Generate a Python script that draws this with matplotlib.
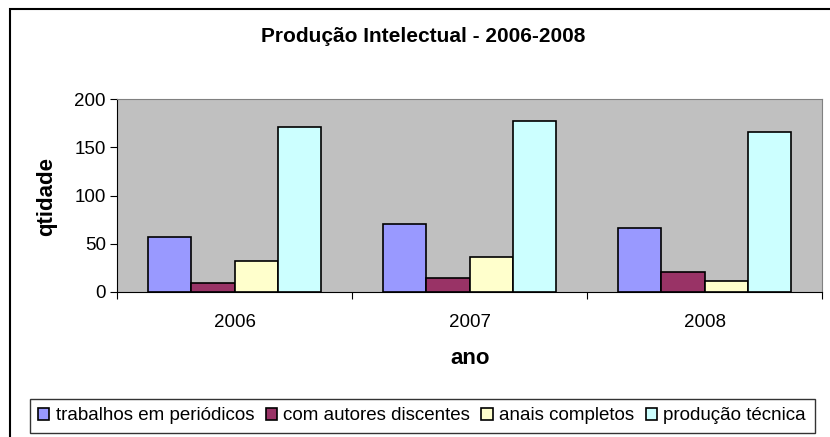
import matplotlib.pyplot as plt
import numpy as np
from matplotlib.patches import Rectangle

plt.rcParams['font.family'] = ['Liberation Sans', 'DejaVu Sans']

anos = ['2006', '2007', '2008']
series = ['trabalhos em periódicos', 'com autores discentes', 'anais completos', 'produção técnica']
trabalhos = [57, 70, 66]
discentes = [9, 14, 21]
anais = [32, 36, 11]
tecnica = [171, 177, 166]
cores = ['#9999FF', '#993366', '#FFFFCC', '#CCFFFF']

fig = plt.figure(figsize=(8.3, 4.37), dpi=100)

# outer chart frame
fig.patches.append(Rectangle((10/830, -0.05), 1.0, 0.979 + 0.05, transform=fig.transFigure,
                             fill=False, edgecolor='black', linewidth=1.5))

ax = fig.add_axes([117/830, 1 - 292/437, 705/830, 193/437])
ax.set_facecolor('#C0C0C0')

x = np.arange(len(anos))
w = 0.183
valores = [trabalhos, discentes, anais, tecnica]
for i, (vals, cor, nome) in enumerate(zip(valores, cores, series)):
    ax.bar(x + (i - 1.5) * w, vals, w, color=cor, edgecolor='black', linewidth=1.2, label=nome)

ax.set_xlim(-0.5, 2.5)
ax.set_ylim(0, 200)
ax.set_yticks([0, 50, 100, 150, 200])
ax.set_xticks([-0.5, 0.5, 1.5, 2.5])
ax.set_xticklabels([])
ax.set_xticks(x, minor=True)
ax.set_xticklabels(anos, minor=True)
ax.tick_params(axis='x', which='minor', length=0, pad=16, labelsize=13.5)
ax.tick_params(axis='x', which='major', length=5, direction='out')
ax.tick_params(axis='y', length=5, direction='out', labelsize=13.5, pad=3)

for s in ['top', 'right']:
    ax.spines[s].set_color('#808080')
for s in ['left', 'bottom']:
    ax.spines[s].set_color('black')

fig.text(47/830, 1 - 197/437, 'qtidade', rotation=90, ha='center', va='center',
         fontsize=16, fontweight='bold')
fig.text(470/830, 1 - 359/437, 'ano', ha='center', va='center',
         fontsize=16, fontweight='bold')
fig.text(423/830, 1 - 37/437, 'Produção Intelectual - 2006-2008', ha='center', va='center',
         fontsize=15, fontweight='bold')

leg = fig.legend(loc='center', bbox_to_anchor=(422/830, 1 - 416/437), ncol=4, fontsize=13.5,
                 frameon=True, fancybox=False, edgecolor='black', handlelength=0.6,
                 handleheight=0.6, handletextpad=0.35, columnspacing=0.6, borderpad=0.45)
leg.get_frame().set_linewidth(1.0)

fig.savefig('out.png', dpi=100)
